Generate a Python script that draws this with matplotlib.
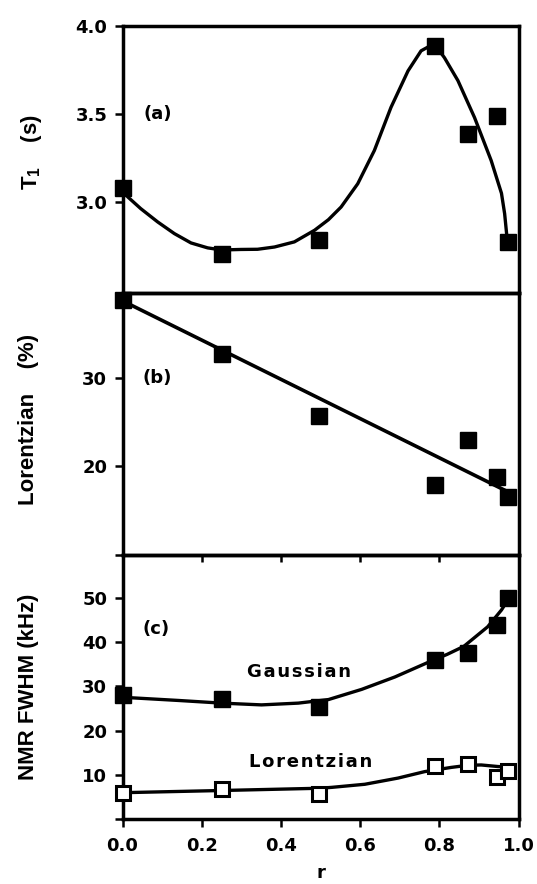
import matplotlib
matplotlib.use("Agg")
import matplotlib.pyplot as plt

plt.rcParams.update({
    "font.family": ["DejaVu Sans"],
    "font.weight": "bold",
    "mathtext.fontset": "custom",
    "mathtext.rm": "Liberation Sans:bold",
    "mathtext.it": "Liberation Sans:bold",
    "mathtext.bf": "Liberation Sans:bold",
    "mathtext.default": "rm",
})

# ---------------- data ----------------
r = [0.0, 0.25, 0.497, 0.788, 0.873, 0.945, 0.974]

t1 = [3.08, 2.708, 2.783, 3.887, 3.387, 3.49, 2.775]
t1_curve_r = [0.0, 0.013, 0.046, 0.089, 0.131, 0.173, 0.215, 0.25, 0.299, 0.341,
              0.384, 0.434, 0.485, 0.52, 0.552, 0.594, 0.636, 0.678, 0.721, 0.754,
              0.775, 0.79, 0.813, 0.847, 0.889, 0.931, 0.957, 0.965, 0.97, 0.972]
t1_curve = [3.08, 3.03, 2.963, 2.887, 2.821, 2.768, 2.74, 2.728, 2.731, 2.732,
            2.745, 2.774, 2.84, 2.90, 2.972, 3.104, 3.293, 3.538, 3.745, 3.859,
            3.885, 3.89, 3.82, 3.69, 3.48, 3.236, 3.05, 2.934, 2.82, 2.775]

lor_pct = [38.8, 32.7, 25.7, 17.9, 23.0, 18.8, 16.5]
lor_fit_r = [0.0, 0.975]
lor_fit = [38.7, 17.1]

gauss_fwhm = [28.0, 27.1, 25.4, 35.9, 37.6, 43.8, 49.85]
gauss_curve_r = [0.0, 0.023, 0.141, 0.25, 0.351, 0.444, 0.52, 0.604, 0.688, 0.772,
                 0.82, 0.862, 0.922, 0.957, 0.974]
gauss_curve = [27.8, 27.4, 26.8, 26.2, 25.8, 26.2, 27.0, 29.3, 32.1, 35.4,
               37.2, 39.0, 43.4, 47.2, 49.6]

lor_fwhm = [5.9, 6.85, 5.7, 12.05, 12.4, 9.6, 10.9]
lor_curve_r = [0.0, 0.253, 0.497, 0.528, 0.612, 0.696, 0.763, 0.83, 0.874, 0.906,
               0.948, 0.98]
lor_curve = [6.0, 6.5, 7.0, 7.2, 7.9, 9.3, 10.75, 11.7, 12.2, 12.25, 11.9, 11.75]

x_ticks = [0.0, 0.2, 0.4, 0.6, 0.8, 1.0]
x_ticklabels = ["0.0", "0.2", "0.4", "0.6", "0.8", "1.0"]
a_yticks = [3.0, 3.5, 4.0]
a_yticklabels = ["3.0", "3.5", "4.0"]
b_yticks = [10, 20, 30]
b_yticklabels = ["", "20", "30"]
c_yticks = [0, 10, 20, 30, 40, 50]
c_yticklabels = ["", "10", "20", "30", "40", "50"]

# ---------------- figure ----------------
W_PX, H_PX = 537, 884
fig = plt.figure(figsize=(W_PX / 100, H_PX / 100), dpi=100)
fig.patch.set_facecolor("white")

L = 122.5 / W_PX
W = 396 / W_PX


def box(top, bottom):
    return [L, 1 - bottom / H_PX, W, (bottom - top) / H_PX]


ax_a = fig.add_axes(box(26, 293.3))
ax_b = fig.add_axes(box(293.3, 555))
ax_c = fig.add_axes(box(555, 819.3))

HS = "\u200a"


def spaced(s):
    return HS.join(s)


for ax in (ax_a, ax_b, ax_c):
    ax.set_facecolor("none")
    ax.set_xlim(0, 1)
    for sp in ax.spines.values():
        sp.set_linewidth(2.5)
        sp.set_color("black")
    ax.set_xticks(x_ticks)
    ax.tick_params(axis="y", which="both", direction="out", length=6, width=1.8,
                   pad=5, labelsize=13, right=False, left=True)
    ax.tick_params(axis="x", which="both", direction="out", length=5, width=1.8,
                   top=False, bottom=True, labelbottom=False, pad=7, labelsize=13)

ax_a.tick_params(axis="x", bottom=False)

# panel (a)
ax_a.set_ylim(2.482, 4.0)
ax_a.set_yticks(a_yticks)
ax_a.set_yticklabels(a_yticklabels)
ax_a.plot(t1_curve_r, t1_curve, color="black", lw=2.4, solid_capstyle="round",
          solid_joinstyle="round")
ax_a.plot(r, t1, ls="none", marker="s", ms=12, color="black", clip_on=False, zorder=5)
ax_a.text(0.09, 3.5, "(a)", ha="center", va="center", fontsize=13, fontweight="bold")

# panel (b)
ax_b.set_ylim(10, 39.55)
ax_b.set_yticks(b_yticks)
ax_b.set_yticklabels(b_yticklabels)
ax_b.plot(lor_fit_r, lor_fit, color="black", lw=2.6)
ax_b.plot(r, lor_pct, ls="none", marker="s", ms=12, color="black", clip_on=False, zorder=5)
ax_b.text(0.087, 30, "(b)", ha="center", va="center", fontsize=13, fontweight="bold")

# panel (c)
ax_c.set_ylim(0, 59.6)
ax_c.set_yticks(c_yticks)
ax_c.set_yticklabels(c_yticklabels)
ax_c.set_xticklabels(x_ticklabels)
ax_c.tick_params(axis="x", labelbottom=True, length=6)
ax_c.plot(gauss_curve_r, gauss_curve, color="black", lw=2.4, solid_joinstyle="round")
ax_c.plot(r, gauss_fwhm, ls="none", marker="s", ms=12, color="black", clip_on=False, zorder=5)
ax_c.plot(lor_curve_r, lor_curve, color="black", lw=2.4, solid_joinstyle="round")
ax_c.plot(r, lor_fwhm, ls="none", marker="s", ms=10.5, mfc="white", mec="black",
          mew=2.2, clip_on=False, zorder=5)
ax_c.text(0.084, 42.9, "(c)", ha="center", va="center", fontsize=13, fontweight="bold")
ax_c.text(0.446, 33.3, spaced("Gaussian"), ha="center", va="center", fontsize=13,
          fontweight="bold")
ax_c.text(0.476, 13.0, spaced("Lorentzian"), ha="center", va="center", fontsize=13,
          fontweight="bold")

# axis titles
lab_kw = dict(rotation=90, rotation_mode="anchor", ha="center", va="baseline",
              fontsize=16, fontweight="bold", family="Liberation Sans")
fig.text(37 / W_PX, 1 - 152.5 / H_PX, "T$_1$    (s)", **lab_kw)
fig.text(34 / W_PX, 1 - 419 / H_PX, "Lorentzian    (%)", **lab_kw)
fig.text(34 / W_PX, 1 - 686.7 / H_PX, "NMR FWHM (kHz)", **lab_kw)
fig.text(320.5 / W_PX, 1.5 / H_PX, "r", ha="center", va="bottom",
         fontsize=13, fontweight="bold")

fig.savefig("out.png", dpi=100)
